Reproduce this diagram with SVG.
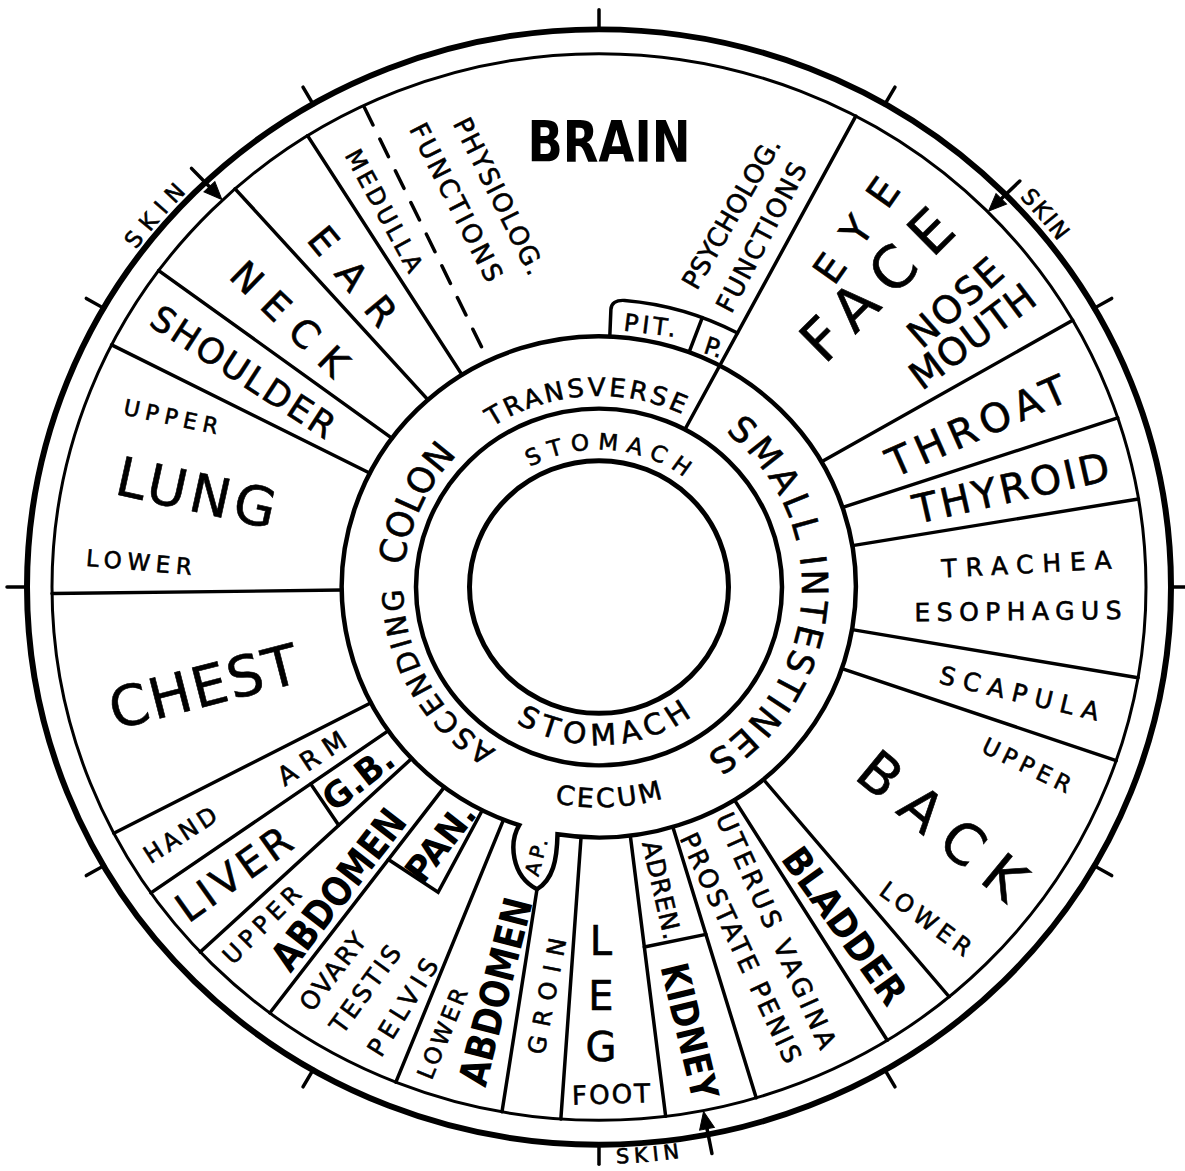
<svg xmlns="http://www.w3.org/2000/svg" width="1185" height="1171" viewBox="0 0 1185 1171">
<defs>
<style>
.ln{fill:none;stroke:#000;stroke-width:3.5;stroke-linecap:round}
.c{fill:none;stroke:#000}
.t{font-family:"DejaVu Sans","Liberation Sans",Arial,sans-serif;fill:#000;text-anchor:middle;stroke:#000;stroke-width:0.6}
.b{font-weight:bold;stroke-width:0}
.ar{fill:#000;stroke:#000;stroke-width:1}
</style>
<path id="pTrans" d="M -169.7,-98 A 196 196 0 0 1 156.5,-118"/>
<path id="pStomT" d="M -122.1,-70.5 A 141 141 0 0 1 133.3,-45.9"/>
<path id="pStomB" d="M -135.6,88.7 A 162 162 0 0 0 144.6,73"/>
<path id="pCecum" d="M -189.5,123.1 A 226 226 0 0 0 201.4,102.6"/>
<path id="pColon" d="M -67,184.2 A 196 196 0 0 1 -98,-169.7"/>
<path id="pSmall" d="M 69.4,-190.8 A 203 203 0 0 1 69.4,190.8"/>
<path id="pSkin1" d="M -543.1,-197.7 A 578 578 0 0 1 -271.4,-510.3"/>
<path id="pSkin2" d="M 290,-502.3 A 580 580 0 0 1 541.5,-207.9"/>
<path id="pSkin3" d="M -202.1,556.1 A 591 591 0 0 0 295.5,511.8"/>
</defs>
<rect width="1185" height="1171" fill="#fff"/>
<g id="chart" transform="translate(599,587) scale(1,0.975)">
 <g id="rings">
  <circle class="c" r="572" stroke-width="6"/>
  <circle class="c" r="547" stroke-width="3"/>
  <path id="colon-outer" class="c" stroke-width="4.5" d="M -79.8,244.3 A 257 257 0 1 1 -41.5,253.6 C -42,280 -46,300 -62,310 C -88,296 -90,262 -79.8,244.3 Z"/>
  <circle class="c" r="183" stroke-width="4.5"/>
  <circle class="c" r="129.5" stroke-width="5"/>
 </g>
 <g id="connectors">
  <line class="ln" y1="-183" y2="-547" transform="rotate(28)"/>
  <line class="ln" y1="-257" y2="-547" transform="rotate(60)"/>
  <line class="ln" y1="-257" y2="-547" transform="rotate(71.5)"/>
  <line class="ln" y1="-257" y2="-547" transform="rotate(80.5)"/>
  <line class="ln" y1="-257" y2="-547" transform="rotate(99.8)"/>
  <line class="ln" y1="-257" y2="-547" transform="rotate(109)"/>
  <line class="ln" y1="-257" y2="-547" transform="rotate(140.2)"/>
  <line class="ln" y1="-257" y2="-547" transform="rotate(148.2)"/>
  <line class="ln" y1="-257" y2="-547" transform="rotate(163.3)"/>
  <line class="ln" y1="-257" y2="-547" transform="rotate(173)"/>
  <line class="ln" y1="-257" y2="-547" transform="rotate(184)"/>
  <line class="ln" x1="-62" y1="310" x2="-97" y2="538.3"/>
  <line class="ln" y1="-257" y2="-547" transform="rotate(201.8)"/>
  <line class="ln" y1="-257" y2="-547" transform="rotate(217)"/>
  <line class="ln" y1="-257" y2="-547" transform="rotate(226.8)"/>
  <line class="ln" y1="-257" y2="-547" transform="rotate(235)"/>
  <line class="ln" y1="-257" y2="-547" transform="rotate(242.5)"/>
  <line class="ln" y1="-257" y2="-547" transform="rotate(269.3)"/>
  <line class="ln" y1="-257" y2="-547" transform="rotate(297)"/>
  <line class="ln" y1="-257" y2="-547" transform="rotate(306.4)"/>
  <line class="ln" y1="-257" y2="-547" transform="rotate(318.3)"/>
  <line class="ln" y1="-257" y2="-547" transform="rotate(327.8)"/>
  <line class="ln" y1="-545" y2="-259" stroke-dasharray="20 16" stroke-linecap="butt" transform="rotate(334.5)"/>
  <path class="ln" d="M 10.8,-256.8 L 11.9,-284.7 Q 12.4,-294.7 25.7,-293.9 A 295 295 0 0 1 138.5,-260.5"/>
  <line class="ln" x1="90" y1="-240.7" x2="103.3" y2="-276.3"/>
  <line class="ln" x1="-288.3" y1="201.9" x2="-260.3" y2="244.4"/>
  <path class="ln" d="M -210.6,279.5 L -160.9,313.1 L -116.7,229"/>
  <line class="ln" x1="45.3" y1="369.2" x2="106.9" y2="356.3"/>
 </g>
 <g id="ticks">
  <line class="ln" stroke-width="4" y1="-571" y2="-592"/>
  <line class="ln" stroke-width="4" y1="-571" y2="-592" transform="rotate(30)"/>
  <line class="ln" stroke-width="4" y1="-571" y2="-592" transform="rotate(60)"/>
  <line class="ln" stroke-width="4" y1="-571" y2="-592" transform="rotate(90)"/>
  <line class="ln" stroke-width="4" y1="-571" y2="-592" transform="rotate(120)"/>
  <line class="ln" stroke-width="4" y1="-571" y2="-592" transform="rotate(150)"/>
  <line class="ln" stroke-width="4" y1="-571" y2="-592" transform="rotate(180)"/>
  <line class="ln" stroke-width="4" y1="-571" y2="-592" transform="rotate(210)"/>
  <line class="ln" stroke-width="4" y1="-571" y2="-592" transform="rotate(240)"/>
  <line class="ln" stroke-width="4" y1="-571" y2="-592" transform="rotate(270)"/>
  <line class="ln" stroke-width="4" y1="-571" y2="-592" transform="rotate(300)"/>
  <line class="ln" stroke-width="4" y1="-571" y2="-592" transform="rotate(330)"/>
 </g>
 <g id="skin-arrows">
  <g transform="rotate(316.5)"><line class="ln" stroke-width="4" y1="-592" y2="-562"/><path class="ar" d="M0,-548 L-7.5,-566 L7.5,-566 Z"/></g>
  <g transform="rotate(45.3)"><line class="ln" stroke-width="4" y1="-592" y2="-562"/><path class="ar" d="M0,-548 L-7.5,-566 L7.5,-566 Z"/></g>
  <g transform="rotate(169)"><line class="ln" stroke-width="4" y1="-592" y2="-562"/><path class="ar" d="M0,-548 L-7.5,-566 L7.5,-566 Z"/></g>
 </g>
 <g id="ring-labels">
  <text class="t" font-size="26" letter-spacing="3"><textPath href="#pTrans" startOffset="50%">TRANSVERSE</textPath></text>
  <text class="t" font-size="23" letter-spacing="8"><textPath href="#pStomT" startOffset="50%">STOMACH</textPath></text>
  <text class="t" font-size="30" letter-spacing="6"><textPath href="#pStomB" startOffset="50%">STOMACH</textPath></text>
  <text class="t" font-size="27" letter-spacing="3"><textPath href="#pCecum" startOffset="50%">CECUM</textPath></text>
  <text class="t" font-size="29" letter-spacing="3"><textPath href="#pColon" startOffset="140">ASCENDING</textPath></text>
  <text class="t" font-size="36"><textPath href="#pColon" startOffset="325">COLON</textPath></text>
  <text class="t" font-size="36" letter-spacing="4"><textPath href="#pSmall" startOffset="134.6">SMALL</textPath></text>
  <text class="t" font-size="36" letter-spacing="3"><textPath href="#pSmall" startOffset="337">INTESTINES</textPath></text>
  <text class="t" font-size="23" letter-spacing="8"><textPath href="#pSkin1" startOffset="50%">SKIN</textPath></text>
  <text class="t" font-size="23" letter-spacing="2"><textPath href="#pSkin2" startOffset="50%">SKIN</textPath></text>
  <text class="t" font-size="21" letter-spacing="5"><textPath href="#pSkin3" startOffset="50%">SKIN</textPath></text>
 </g>
</g>
<g id="labels">
 <g id="brain">
  <text class="t b" font-size="57" transform="translate(609,141)" y="21" textLength="163" lengthAdjust="spacingAndGlyphs">BRAIN</text>
  <text class="t" font-size="26" transform="translate(499.5,196) rotate(63.4)" y="9.5" textLength="172" lengthAdjust="spacing">PHYSIOLOG.</text>
  <text class="t" font-size="26" transform="translate(456.5,202) rotate(63.1)" y="9.5" textLength="174" lengthAdjust="spacing">FUNCTIONS</text>
  <text class="t" font-size="26" transform="translate(731,213) rotate(-60)" y="9.5" textLength="170" lengthAdjust="spacing">PSYCHOLOG.</text>
  <text class="t" font-size="26" transform="translate(761,237) rotate(-62.4)" y="9.5" textLength="165" lengthAdjust="spacing">FUNCTIONS</text>
  <text class="t" font-size="24" transform="translate(650,325) rotate(7)" y="8.8" textLength="52" lengthAdjust="spacing">PIT.</text>
  <text class="t" font-size="24" transform="translate(714,347) rotate(18)" y="8.8">P.</text>
 </g>
 <g id="medulla"><text class="t" font-size="24" transform="translate(384.5,210.5) rotate(61.5)" y="8.8" textLength="136" lengthAdjust="spacing">MEDULLA</text></g>
 <g id="ear"><text class="t" font-size="38" transform="translate(353,276) rotate(50.5)" y="13.9" textLength="116" lengthAdjust="spacing">EAR</text></g>
 <g id="neck"><text class="t" font-size="38" transform="translate(290,318.5) rotate(44)" y="13.9" textLength="147" lengthAdjust="spacing">NECK</text></g>
 <g id="shoulder"><text class="t" font-size="35" transform="translate(243.5,371.5) rotate(33)" y="12.8" textLength="212" lengthAdjust="spacing">SHOULDER</text></g>
 <g id="lung">
  <text class="t" font-size="22" transform="translate(171,416.5) rotate(12)" y="8" textLength="96" lengthAdjust="spacing">UPPER</text>
  <text class="t" font-size="54" transform="translate(196.5,492) rotate(12.4)" y="19.7" textLength="162" lengthAdjust="spacing">LUNG</text>
  <text class="t" font-size="23" transform="translate(139,562) rotate(5)" y="8.4" textLength="106" lengthAdjust="spacing">LOWER</text>
 </g>
 <g id="chest"><text class="t" font-size="56" transform="translate(203.5,686) rotate(-14.4)" y="20.4" textLength="193" lengthAdjust="spacing">CHEST</text></g>
 <g id="arm">
  <text class="t" font-size="26" transform="translate(311.5,758) rotate(-33)" y="9.5" textLength="76" lengthAdjust="spacing">ARM</text>
  <text class="t" font-size="24" transform="translate(180,834.5) rotate(-33)" y="8.8" textLength="82" lengthAdjust="spacing">HAND</text>
 </g>
 <g id="liver">
  <text class="t b" font-size="36" transform="translate(358,778) rotate(-38)" y="13.1" textLength="80" lengthAdjust="spacingAndGlyphs">G.B.</text>
  <text class="t" font-size="40" transform="translate(233.5,873.5) rotate(-35.4)" y="14.6" textLength="132" lengthAdjust="spacing">LIVER</text>
 </g>
 <g id="upper-abdomen">
  <text class="t" font-size="24" transform="translate(261.5,924.5) rotate(-45)" y="8.8" textLength="99" lengthAdjust="spacing">UPPER</text>
  <text class="t b" font-size="40" transform="translate(338,889) rotate(-52)" y="14.6" textLength="192" lengthAdjust="spacingAndGlyphs">ABDOMEN</text>
  <text class="t b" font-size="36" transform="translate(440,842) rotate(-52)" y="13.1" textLength="90" lengthAdjust="spacingAndGlyphs">PAN.</text>
 </g>
 <g id="pelvis">
  <text class="t" font-size="25" transform="translate(332.5,971.5) rotate(-52)" y="9.1" textLength="91" lengthAdjust="spacing">OVARY</text>
  <text class="t" font-size="25" transform="translate(365,989) rotate(-54)" y="9.1" textLength="102" lengthAdjust="spacing">TESTIS</text>
  <text class="t" font-size="25" transform="translate(402.5,1007) rotate(-58)" y="9.1" textLength="110" lengthAdjust="spacing">PELVIS</text>
 </g>
 <g id="lower-abdomen">
  <text class="t" font-size="23" transform="translate(442,1033.5) rotate(-67.7)" y="8.4" textLength="96" lengthAdjust="spacing">LOWER</text>
  <text class="t b" font-size="40" transform="translate(495,991.5) rotate(-75.7)" y="14.6" textLength="192" lengthAdjust="spacingAndGlyphs">ABDOMEN</text>
  <text class="t" font-size="20" transform="translate(536,857) rotate(-75)" y="7.3" textLength="38" lengthAdjust="spacing">AP.</text>
 </g>
 <g id="groin"><text class="t" font-size="24" transform="translate(546.5,996) rotate(-79)" y="8.8" textLength="118" lengthAdjust="spacing">GROIN</text></g>
 <g id="leg">
  <text class="t" font-size="40" x="601" y="954.6">L</text>
  <text class="t" font-size="40" x="601" y="1009.6">E</text>
  <text class="t" font-size="40" x="601" y="1060.6">G</text>
  <text class="t" font-size="26" transform="translate(611,1094) rotate(-2)" y="9.5" textLength="78" lengthAdjust="spacing">FOOT</text>
 </g>
 <g id="kidney">
  <text class="t" font-size="25" transform="translate(662,890) rotate(77)" y="9.1" textLength="100" lengthAdjust="spacing">ADREN.</text>
  <text class="t b" font-size="38" transform="translate(690,1031) rotate(76.5)" y="13.9" textLength="139" lengthAdjust="spacingAndGlyphs">KIDNEY</text>
 </g>
 <g id="uterus">
  <text class="t" font-size="26" transform="translate(776.5,930.5) rotate(65.7)" y="9.5" textLength="256" lengthAdjust="spacing">UTERUS VAGINA</text>
  <text class="t" font-size="26" transform="translate(741,947.5) rotate(64.9)" y="9.5" textLength="251" lengthAdjust="spacing">PROSTATE PENIS</text>
 </g>
 <g id="bladder"><text class="t b" font-size="38" transform="translate(845,925.5) rotate(54.2)" y="13.9" textLength="184" lengthAdjust="spacingAndGlyphs">BLADDER</text></g>
 <g id="back">
  <text class="t" font-size="23" transform="translate(1027,765) rotate(26)" y="8.4" textLength="96" lengthAdjust="spacing">UPPER</text>
  <text class="t" font-size="56" transform="translate(942.5,825) rotate(39.5)" y="20.4" textLength="199" lengthAdjust="spacing">BACK</text>
  <text class="t" font-size="24" transform="translate(926,918.5) rotate(36.4)" y="8.8" textLength="107" lengthAdjust="spacing">LOWER</text>
 </g>
 <g id="scapula"><text class="t" font-size="25" transform="translate(1019.5,693) rotate(13.4)" y="9.1" textLength="163" lengthAdjust="spacing">SCAPULA</text></g>
 <g id="trachea">
  <text class="t" font-size="25" transform="translate(1026.5,564) rotate(-3)" y="9.1" textLength="170" lengthAdjust="spacing">TRACHEA</text>
  <text class="t" font-size="25" transform="translate(1018,611) rotate(-0.6)" y="9.1" textLength="207" lengthAdjust="spacing">ESOPHAGUS</text>
 </g>
 <g id="thyroid"><text class="t" font-size="40" transform="translate(1011,487.5) rotate(-12.8)" y="14.6" textLength="200" lengthAdjust="spacing">THYROID</text></g>
 <g id="throat"><text class="t" font-size="40" transform="translate(976.5,425.5) rotate(-23.9)" y="14.6" textLength="193" lengthAdjust="spacing">THROAT</text></g>
 <g id="face">
  <text class="t" font-size="40" transform="translate(856,230) rotate(-54.9)" y="14.6" textLength="118" lengthAdjust="spacing">EYE</text>
  <text class="t" font-size="58" transform="translate(876.5,284) rotate(-44.7)" y="21.2" textLength="188" lengthAdjust="spacing">FACE</text>
  <text class="t" font-size="38" transform="translate(955,302) rotate(-41.4)" y="13.9" textLength="113" lengthAdjust="spacing">NOSE</text>
  <text class="t" font-size="38" transform="translate(972,336) rotate(-37)" y="13.9" textLength="147" lengthAdjust="spacing">MOUTH</text>
 </g>
</g>
</svg>
